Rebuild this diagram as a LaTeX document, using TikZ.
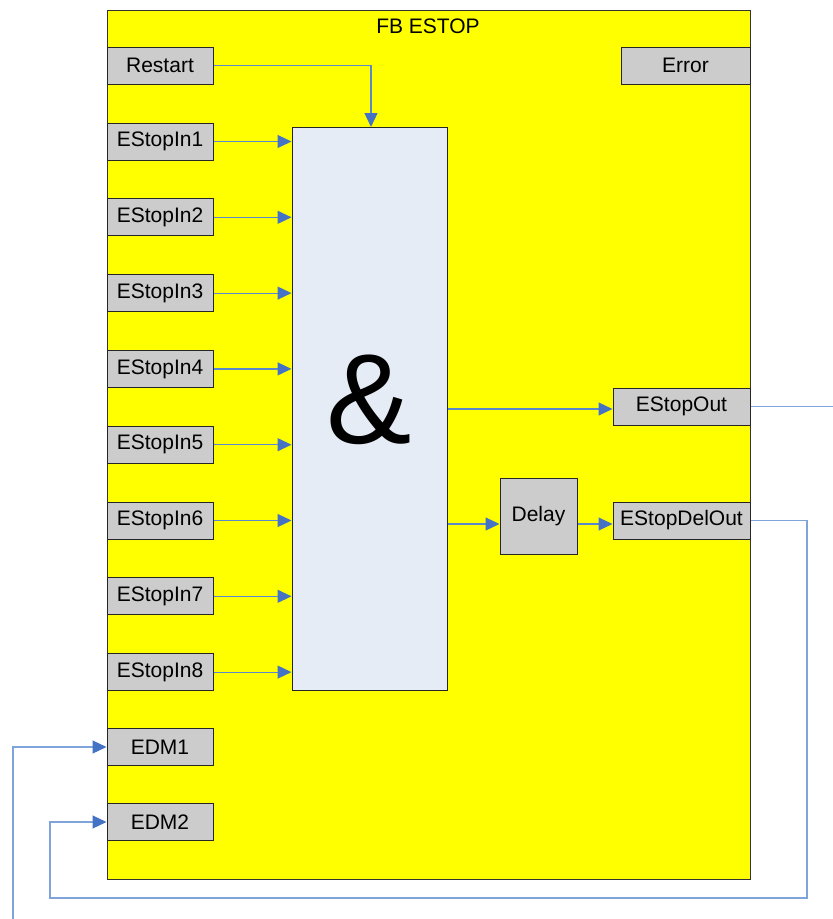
\documentclass[tikz,border=0pt]{standalone}
\usepackage{fontspec}
\setmainfont{Liberation Sans}
\usetikzlibrary{arrows.meta}
\definecolor{fbyellow}{HTML}{FFFF00}
\definecolor{portgray}{HTML}{CCCCCC}
\definecolor{andfill}{HTML}{E6ECF6}
\definecolor{wireblue}{HTML}{5B87CC}
\definecolor{lightwire}{HTML}{7FA4DC}
\definecolor{tipblue}{HTML}{4472C4}
\tikzset{
  portbox/.style={draw=black!85, line width=1pt, fill=portgray, inner sep=0pt,
    minimum height=37pt, font=\fontsize{21}{25}\selectfont},
  wire/.style={draw=wireblue, line width=1.2pt},
  arrwire/.style={wire, -{Triangle[length=14pt,width=13pt,color=tipblue]}}
}
\begin{document}
\begin{tikzpicture}[x=1pt,y=-1pt]
\useasboundingbox (0,0) rectangle (833,919);
\node[draw=black!80, line width=1pt, fill=fbyellow, minimum width=643pt, minimum height=869pt, inner sep=0pt] (fb) at (428.5,444.5) {};
\node[font=\fontsize{21}{25}\selectfont] (title) at (428,26) {FB ESTOP};
\node[portbox, minimum width=106pt] (restart) at (160,65.5) {Restart};
\node[portbox, minimum width=129pt] (error) at (685.5,65.5) {Error};
\foreach \i in {1,...,8} {
  \node[portbox, minimum width=106pt] (in\i) at (160,{141.5+(\i-1)*75.8}) {EStopIn\i};
}
\node[portbox, minimum width=106pt] (edm1) at (160,747) {EDM1};
\node[portbox, minimum width=106pt] (edm2) at (160,822) {EDM2};
\node[draw=black!85, line width=1pt, fill=andfill, minimum width=155pt, minimum height=563pt, inner sep=0pt] (and) at (369.5,408.5) {};
\node[font=\fontsize{128}{130}\selectfont, inner sep=0pt] (amp) at (369.5,400) {\&};
\node[portbox, minimum width=137pt] (out) at (681.5,406.5) {EStopOut};
\node[portbox, minimum width=77pt, minimum height=76pt] (delay) at (538.5,516) {Delay};
\node[portbox, minimum width=137pt] (delout) at (681.5,520.5) {EStopDelOut};
% connectors
\coordinate (rin) at (371,127);
\draw[arrwire] (restart.east) -| (rin);
\foreach \i in {1,...,8} {
  \draw[arrwire] (in\i.east) -- (in\i.east -| and.west);
}
\draw[arrwire] (and.east |- 0,409) -- (out.west |- 0,409);
\draw[arrwire] (and.east |- 0,524) -- (delay.west |- 0,524);
\draw[arrwire] (delay.east |- 0,524) -- (delout.west |- 0,524);
\coordinate (outend) at (833,406.5);
\draw[wire, draw=lightwire] (out.east) -- (outend);
\coordinate (fbr) at (807,898);
\coordinate (fbl) at (50,898);
\draw[arrwire, draw=lightwire] (delout.east) -| (fbr) -- (fbl) |- (edm2.west);
\coordinate (edmstart) at (13,919);
\draw[arrwire, draw=lightwire] (edmstart) |- (edm1.west);
\end{tikzpicture}
\end{document}
